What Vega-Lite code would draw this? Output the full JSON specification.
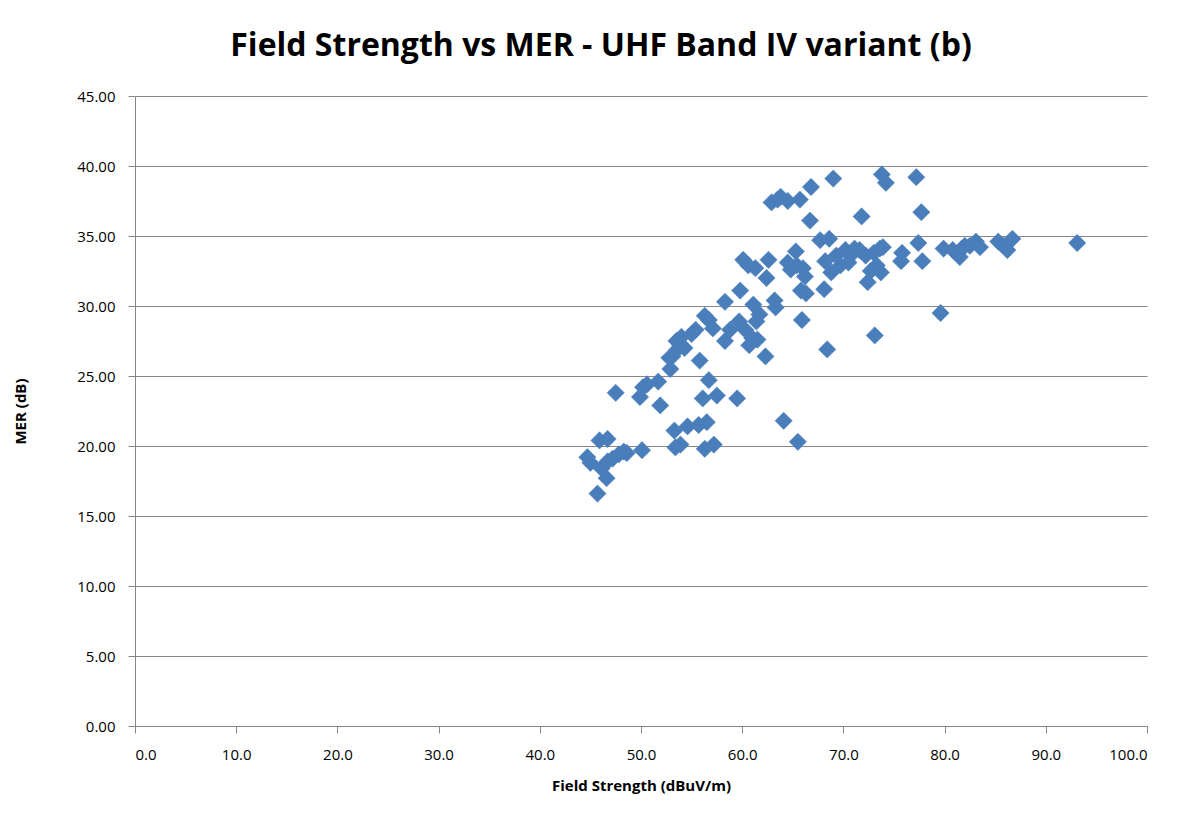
{
  "$schema": "https://vega.github.io/schema/vega-lite/v6.json",
  "autosize": {"type": "none"},
  "width": 1012,
  "height": 630,
  "padding": {"left": 135, "top": 96, "right": 50, "bottom": 94},
  "background": "white",
  "title": {"text": "Field Strength vs MER - UHF Band IV variant (b)", "font": "Open Sans", "fontSize": 32, "fontWeight": "bold", "color": "#000000", "anchor": "middle", "offset": 26, "dx": -40},
  "data": {"values": [
    {"fs": 44.7, "mer": 19.2}, {"fs": 45.0, "mer": 18.8}, {"fs": 45.7, "mer": 16.6}, {"fs": 45.9, "mer": 20.4},
    {"fs": 46.1, "mer": 18.4}, {"fs": 46.6, "mer": 17.7}, {"fs": 46.7, "mer": 20.5}, {"fs": 46.7, "mer": 18.9},
    {"fs": 47.2, "mer": 19.1}, {"fs": 47.5, "mer": 23.8}, {"fs": 47.8, "mer": 19.4}, {"fs": 48.3, "mer": 19.6},
    {"fs": 48.6, "mer": 19.5}, {"fs": 50.1, "mer": 19.7}, {"fs": 49.9, "mer": 23.5}, {"fs": 50.2, "mer": 24.2},
    {"fs": 50.6, "mer": 24.4}, {"fs": 51.7, "mer": 24.6}, {"fs": 51.9, "mer": 22.9}, {"fs": 52.9, "mer": 25.5},
    {"fs": 52.8, "mer": 26.3}, {"fs": 53.1, "mer": 26.4}, {"fs": 53.5, "mer": 27.5}, {"fs": 53.6, "mer": 26.9},
    {"fs": 53.9, "mer": 27.2}, {"fs": 54.0, "mer": 27.8}, {"fs": 54.3, "mer": 27.0}, {"fs": 55.0, "mer": 28.0},
    {"fs": 55.4, "mer": 28.3}, {"fs": 53.3, "mer": 21.1}, {"fs": 53.4, "mer": 19.9}, {"fs": 53.9, "mer": 20.1},
    {"fs": 54.6, "mer": 21.4}, {"fs": 55.7, "mer": 21.5}, {"fs": 55.8, "mer": 26.1}, {"fs": 56.3, "mer": 29.3},
    {"fs": 56.7, "mer": 29.0}, {"fs": 56.1, "mer": 23.4}, {"fs": 56.3, "mer": 19.8}, {"fs": 56.5, "mer": 21.7},
    {"fs": 56.7, "mer": 24.7}, {"fs": 57.1, "mer": 28.4}, {"fs": 57.2, "mer": 20.1}, {"fs": 57.5, "mer": 23.6},
    {"fs": 58.3, "mer": 27.5}, {"fs": 58.3, "mer": 30.3}, {"fs": 58.8, "mer": 28.3}, {"fs": 59.5, "mer": 23.4},
    {"fs": 59.7, "mer": 28.9}, {"fs": 59.8, "mer": 31.1}, {"fs": 60.1, "mer": 33.3}, {"fs": 60.3, "mer": 28.3},
    {"fs": 60.6, "mer": 32.9}, {"fs": 60.7, "mer": 27.2}, {"fs": 61.0, "mer": 27.7}, {"fs": 61.1, "mer": 30.1},
    {"fs": 61.3, "mer": 32.7}, {"fs": 61.4, "mer": 28.9}, {"fs": 61.5, "mer": 27.6}, {"fs": 61.7, "mer": 29.4},
    {"fs": 62.3, "mer": 26.4}, {"fs": 62.4, "mer": 32.0}, {"fs": 62.6, "mer": 33.3}, {"fs": 62.9, "mer": 37.4},
    {"fs": 63.2, "mer": 30.4}, {"fs": 63.3, "mer": 29.9}, {"fs": 63.5, "mer": 37.6}, {"fs": 63.8, "mer": 37.8},
    {"fs": 64.1, "mer": 21.8}, {"fs": 64.5, "mer": 37.5}, {"fs": 64.5, "mer": 33.1}, {"fs": 64.8, "mer": 32.6},
    {"fs": 65.3, "mer": 33.9}, {"fs": 65.4, "mer": 32.9}, {"fs": 65.5, "mer": 20.3}, {"fs": 65.7, "mer": 37.6},
    {"fs": 65.8, "mer": 31.1}, {"fs": 65.9, "mer": 29.0}, {"fs": 66.0, "mer": 32.7}, {"fs": 66.2, "mer": 32.1},
    {"fs": 66.3, "mer": 30.9}, {"fs": 66.7, "mer": 36.1}, {"fs": 66.8, "mer": 38.5}, {"fs": 67.7, "mer": 34.7},
    {"fs": 68.1, "mer": 31.2}, {"fs": 68.2, "mer": 33.2}, {"fs": 68.4, "mer": 26.9}, {"fs": 68.6, "mer": 34.8},
    {"fs": 68.8, "mer": 32.4}, {"fs": 69.0, "mer": 39.1}, {"fs": 69.3, "mer": 33.6}, {"fs": 69.7, "mer": 32.9},
    {"fs": 70.2, "mer": 34.0}, {"fs": 70.5, "mer": 33.1}, {"fs": 70.7, "mer": 33.6}, {"fs": 71.1, "mer": 34.1},
    {"fs": 71.6, "mer": 34.0}, {"fs": 71.8, "mer": 36.4}, {"fs": 72.2, "mer": 33.6}, {"fs": 72.4, "mer": 31.7},
    {"fs": 72.7, "mer": 32.5}, {"fs": 73.0, "mer": 33.8}, {"fs": 73.1, "mer": 27.9}, {"fs": 73.3, "mer": 32.9},
    {"fs": 73.6, "mer": 34.1}, {"fs": 73.8, "mer": 39.4}, {"fs": 73.7, "mer": 32.4}, {"fs": 73.9, "mer": 34.2},
    {"fs": 74.2, "mer": 38.8}, {"fs": 75.7, "mer": 33.2}, {"fs": 75.8, "mer": 33.8}, {"fs": 77.4, "mer": 34.5},
    {"fs": 77.2, "mer": 39.2}, {"fs": 77.7, "mer": 36.7}, {"fs": 77.8, "mer": 33.2}, {"fs": 79.6, "mer": 29.5},
    {"fs": 79.9, "mer": 34.1}, {"fs": 80.8, "mer": 34.0}, {"fs": 81.3, "mer": 33.8}, {"fs": 81.5, "mer": 33.5},
    {"fs": 81.7, "mer": 34.1}, {"fs": 82.0, "mer": 34.3}, {"fs": 82.5, "mer": 34.3}, {"fs": 83.1, "mer": 34.6},
    {"fs": 83.5, "mer": 34.2}, {"fs": 85.3, "mer": 34.6}, {"fs": 85.8, "mer": 34.3}, {"fs": 86.2, "mer": 34.0},
    {"fs": 86.7, "mer": 34.8}, {"fs": 93.1, "mer": 34.5}
  ]},
  "mark": {"type": "point", "shape": "diamond", "filled": true, "size": 300, "color": "#4A7EBB", "opacity": 1, "stroke": "#4A7EBB", "strokeWidth": 0.5},
  "encoding": {
    "x": {"field": "fs", "type": "quantitative", "title": "Field Strength (dBuV/m)",
      "scale": {"domain": [0, 100], "nice": false, "zero": true},
      "axis": {"values": [0, 10, 20, 30, 40, 50, 60, 70, 80, 90, 100], "format": ".1f", "grid": false}},
    "y": {"field": "mer", "type": "quantitative", "title": "MER (dB)",
      "scale": {"domain": [0, 45], "nice": false, "zero": true},
      "axis": {"values": [0, 5, 10, 15, 20, 25, 30, 35, 40, 45], "format": ".2f", "grid": true}}
  },
  "config": {
    "view": {"stroke": null},
    "axis": {
      "labelFont": "Open Sans", "labelFontSize": 15, "labelColor": "#000000",
      "titleFont": "Open Sans", "titleFontSize": 15, "titleFontWeight": "bold", "titleColor": "#000000",
      "domainColor": "#868686", "tickColor": "#868686", "tickSize": 7, "gridColor": "#868686", "gridWidth": 1
    },
    "axisX": {"labelPadding": 14, "titlePadding": 16},
    "axisY": {"labelPadding": 13, "titlePadding": 48}
  }
}
